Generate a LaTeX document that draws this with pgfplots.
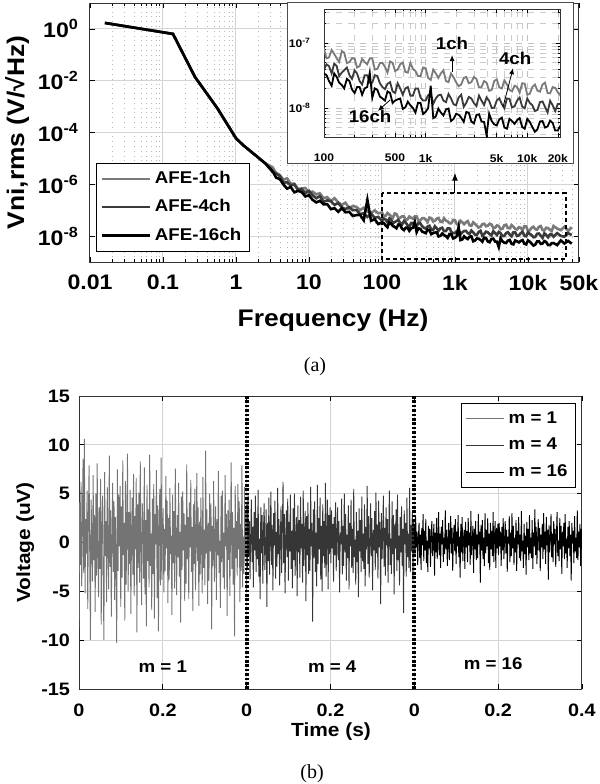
\documentclass[border=0pt]{standalone}
\usepackage{fontspec}
\setmainfont{Liberation Sans}[FakeStretch=1.1]
\newfontfamily\capfont{Liberation Serif}
\usepackage{pgfplots}
\pgfplotsset{compat=1.18}
\usepackage{pgfplotstable}
\usetikzlibrary{arrows.meta}

\definecolor{ch1}{HTML}{7A7A7A}
\definecolor{ch4}{HTML}{3A3A3A}
\definecolor{ch16}{HTML}{000000}
\definecolor{mone}{HTML}{747474}
\definecolor{mfour}{HTML}{363636}
\definecolor{gridc}{HTML}{D4D4D4}

% input-referred noise spectra (f in Hz, V/sqrt(Hz))
\pgfplotstableread{
f a b c
0.016 1.7 1.7 1.7
0.137 0.64 0.64 0.64
0.274 0.014 0.014 0.014
0.55 9e-4 9e-4 9e-4
1.0 6e-5 6e-5 6e-5
1.26 3.2e-5 3.2e-5 3.2e-5
1.58 1.9e-5 1.9e-5 1.9e-5
2.0 1.1e-5 1.1e-5 1.1e-5
2.51 6.5e-6 6.5e-6 6.5e-6
3.16 4.6e-6 3.0e-6 3.3e-6
3.55 2.7e-6 2.6e-6 1.8e-6
3.98 2.3e-6 2.1e-6 1.6e-6
4.47 1.5e-6 1.15e-6 9.8e-7
5.01 1.7e-6 1.2e-6 6.8e-7
5.62 1.07e-6 9.1e-7 7.9e-7
6.31 1.05e-6 9.8e-7 4.9e-7
7.08 6.6e-7 6.0e-7 5.6e-7
7.94 6.9e-7 6.6e-7 5.0e-7
8.91 7.2e-7 4.6e-7 3.4e-7
10 4.6e-7 5.6e-7 3.8e-7
11.2 5.2e-7 3.8e-7 2.5e-7
12.6 4.1e-7 2.9e-7 2.0e-7
14.1 4.5e-7 3.5e-7 2.3e-7
15.8 2.9e-7 2.1e-7 1.7e-7
17.8 3.2e-7 2.4e-7 1.7e-7
20.0 2.3e-7 2.2e-7 1.1e-7
22.4 2.9e-7 1.6e-7 1.2e-7
25.1 2.0e-7 1.9e-7 8.7e-8
28.2 1.6e-7 1.3e-7 1.2e-7
31.6 1.95e-7 1.1e-7 8.3e-8
35.5 1.2e-7 1.3e-7 8.7e-8
39.8 1.45e-7 1.0e-7 6.0e-8
44.7 1.35e-7 1.02e-7 6.5e-8
50.1 1.0e-7 7.1e-8 6.6e-8
56.2 1.26e-7 7.6e-8 4.1e-8
63.1 8.9e-8 5.5e-8 2.5e-7
70.8 7.8e-8 7.4e-8 3.9e-8
79.4 9.8e-8 5.1e-8 4.5e-8
89.1 7.6e-8 5.5e-8 2.9e-8
100 8.1e-8 3.9e-8 3.4e-8
105.9 5.8e-8 4.7e-8 3.2e-8
112 6.0e-8 4.4e-8 2.6e-8
118.9 7.8e-8 3.4e-8 2.2e-8
126 6.8e-8 4.8e-8 3.4e-8
133.4 5.8e-8 4.4e-8 3.0e-8
141 5.1e-8 3.1e-8 2.45e-8
149.6 7.5e-8 3.5e-8 2.26e-8
158 7.1e-8 3.8e-8 2.0e-8
167.9 4.9e-8 4.2e-8 2.8e-8
178 5.1e-8 3.2e-8 2.6e-8
188.4 5.8e-8 2.8e-8 1.93e-8
200 5.8e-8 3.8e-8 1.7e-8
211.3 4.2e-8 3.4e-8 2.1e-8
224 4.4e-8 2.6e-8 2.1e-8
237.1 5.7e-8 2.3e-8 1.6e-8
251 5.1e-8 3.2e-8 2.0e-8
266.1 4.7e-8 3.2e-8 2.1e-8
282 5.8e-8 2.45e-8 3.5e-8
298.5 5.8e-8 2.45e-8 1.43e-8
316 3.9e-8 3.2e-8 2.0e-8
335 4.0e-8 3.1e-8 1.9e-8
355 4.9e-8 2.4e-8 1.5e-8
375.8 4.95e-8 2.1e-8 1.4e-8
398 4.3e-8 1.95e-8 1.3e-8
421.7 3.5e-8 2.35e-8 1.8e-8
447 5.2e-8 2.5e-8 1.7e-8
473.2 4.95e-8 1.8e-8 1.19e-8
501 3.7e-8 1.7e-8 1.3e-8
530.9 3.9e-8 2.4e-8 1.36e-8
562 4.7e-8 2.0e-8 1.4e-8
595.7 5.0e-8 1.6e-8 9.7e-9
631 3.6e-8 2.0e-8 1.02e-8
668.3 3.5e-8 2.1e-8 1.25e-8
708 4.9e-8 1.55e-8 1.1e-8
749.9 4.0e-8 1.55e-8 1.0e-8
794 3.7e-8 2.0e-8 8.5e-9
841.4 3.1e-8 2.0e-8 1.2e-8
891 3.1e-8 1.45e-8 1.2e-8
944.1 4.2e-8 1.3e-8 8.1e-9
1000 4.1e-8 1.3e-8 8.7e-9
1059 2.9e-8 1.57e-8 1.0e-8
1122 2.7e-8 1.7e-8 2.2e-8
1189 3.9e-8 1.16e-8 7.0e-9
1259 3.4e-8 1.4e-8 7.4e-9
1334 2.9e-8 1.57e-8 9.8e-9
1413 3.4e-8 1.6e-8 8.5e-9
1496 3.8e-8 1.3e-8 7.7e-9
1585 2.6e-8 1.23e-8 9.5e-9
1679 2.5e-8 1.64e-8 9.8e-9
1778 3.4e-8 1.4e-8 6.3e-9
1884 2.95e-8 1.14e-8 6.8e-9
1995 2.5e-8 1.1e-8 8.1e-9
2113 2.16e-8 1.45e-8 7.9e-9
2239 2.3e-8 1.6e-8 7.1e-9
2371 2.9e-8 1.04e-8 6.1e-9
2512 3.0e-8 1.2e-8 8.7e-9
2661 2.4e-8 1.48e-8 8.4e-9
2818 2.5e-8 1.4e-8 6.2e-9
2985 3.0e-8 1.19e-8 5.8e-9
3162 2.8e-8 1.07e-8 7.8e-9
3350 2.07e-8 1.55e-8 8.0e-9
3548 2.1e-8 1.3e-8 6.2e-9
3758 2.6e-8 1.11e-8 6.1e-9
3981 2.45e-8 1.45e-8 3.8e-9
4217 1.84e-8 1.29e-8 8.2e-9
4467 1.9e-8 1.0e-8 6.3e-9
4732 2.6e-8 1.01e-8 5.6e-9
5012 2.75e-8 1.3e-8 5.4e-9
5309 2.07e-8 1.41e-8 6.7e-9
5623 2.0e-8 1.15e-8 7.1e-9
5957 2.66e-8 9.9e-9 5.0e-9
6310 2.3e-8 1.4e-8 4.8e-9
6683 1.9e-8 1.38e-8 6.8e-9
7079 1.8e-8 1.02e-8 6.3e-9
7499 2.2e-8 1.06e-8 5.7e-9
7943 2.1e-8 1.3e-8 6.5e-9
8414 1.72e-8 1.45e-8 7.0e-9
8913 2.4e-8 1.05e-8 5.1e-9
9441 2.37e-8 9.9e-9 4.8e-9
10000 1.6e-8 1.4e-8 6.8e-9
10593 1.66e-8 1.2e-8 6.1e-9
11220 2.1e-8 1.1e-8 5.1e-9
11885 2.3e-8 9.0e-9 4.3e-9
12589 1.85e-8 9.3e-9 4.7e-9
13335 1.78e-8 1.23e-8 6.2e-9
14125 2.3e-8 1.26e-8 6.3e-9
14962 2.45e-8 1.04e-8 5.0e-9
15849 1.7e-8 8.5e-9 5.2e-9
16788 1.68e-8 1.29e-8 6.4e-9
17783 2.1e-8 1.1e-8 5.9e-9
18836 2.04e-8 9.0e-9 4.5e-9
19953 1.75e-8 1.15e-8 4.5e-9
21135 1.57e-8 1.16e-8 5.3e-9
22387 2.45e-8 9.5e-9 5.4e-9
25119 1.95e-8 1.3e-8 4.5e-9
28184 1.7e-8 1.02e-8 6.8e-9
31623 2.3e-8 9.5e-9 5.2e-9
35481 1.6e-8 1.3e-8 6.5e-9
39811 2.2e-8 1.1e-8 5.1e-9
}\spec

% time-domain noise, uV, one sample per row (250 samples over 0.4 s)
\pgfplotstableread[row sep=\\]{v\\
-8.8\\4.1\\-2.3\\6.2\\-4.5\\1.2\\8.6\\-3.1\\10.6\\-5.2\\2.4\\-1.1\\5.3\\-6.8\\3.0\\7.9\\-2.0\\-10.0\\4.4\\0.6\\-4.0\\6.9\\-1.8\\2.8\\-7.1\\
5.0\\-3.4\\8.1\\-0.9\\-5.6\\3.6\\-2.7\\6.5\\-8.4\\1.9\\4.8\\-3.9\\-10.0\\7.2\\-1.4\\2.2\\-6.1\\5.7\\0.3\\-4.8\\8.9\\-2.5\\3.3\\-7.6\\1.0\\
6.1\\-3.0\\4.2\\-5.9\\2.6\\-1.6\\-10.3\\7.5\\-2.9\\4.9\\-0.4\\5.8\\-6.6\\3.7\\-3.6\\8.4\\-1.3\\2.0\\-8.0\\6.3\\-4.3\\1.5\\9.1\\-5.0\\3.1\\
-2.2\\5.4\\-7.3\\0.8\\4.6\\-3.3\\7.0\\-5.5\\2.7\\-0.7\\6.6\\-9.2\\3.9\\-2.6\\5.1\\-4.1\\8.3\\-1.0\\-6.4\\4.0\\1.7\\-3.7\\7.7\\-5.3\\2.3\\
-8.6\\5.9\\-1.9\\3.4\\-4.6\\9.0\\-2.4\\0.9\\-6.9\\4.5\\-3.2\\6.0\\-7.8\\2.9\\-0.2\\7.4\\-5.7\\3.8\\-9.1\\1.3\\5.5\\-4.4\\8.7\\-3.8\\2.1\\
3.5\\-5.1\\1.4\\-2.9\\6.8\\-0.6\\4.3\\-6.2\\2.5\\-3.8\\5.6\\-1.2\\0.7\\-7.4\\4.9\\-2.1\\3.2\\-4.7\\7.6\\-0.3\\
-5.4\\2.8\\-1.5\\6.1\\-3.5\\1.1\\-8.2\\4.7\\-2.8\\5.2\\-0.8\\3.0\\-6.0\\1.8\\-4.2\\8.0\\-1.7\\2.6\\-5.8\\4.1\\
-0.5\\6.4\\-3.0\\1.6\\-7.0\\3.9\\-2.2\\5.5\\-4.9\\0.4\\7.1\\-1.9\\3.6\\-6.5\\2.1\\-3.3\\4.6\\-0.1\\-5.2\\6.7\\
-2.6\\1.3\\-4.4\\9.4\\-1.1\\3.4\\-6.3\\2.0\\-3.9\\5.0\\-0.9\\4.0\\-8.9\\1.7\\-2.4\\6.3\\-4.0\\0.5\\3.7\\-5.9\\
2.4\\-1.3\\7.3\\-3.1\\0.2\\-6.7\\4.8\\-2.0\\5.3\\-3.6\\1.0\\-4.8\\6.9\\-0.4\\2.9\\-7.5\\3.3\\-1.8\\4.4\\-5.5\\
0.9\\8.2\\-2.7\\3.1\\-4.3\\1.5\\-9.6\\5.8\\-1.6\\2.2\\-3.4\\6.0\\-0.7\\4.2\\-6.1\\1.9\\-2.9\\7.9\\-4.6\\0.6\\
-3.2\\5.7\\-1.4\\3.0\\-5.0\\
}\segA
\pgfplotstableread[row sep=\\]{v\\
3.9\\-2.6\\5.1\\-1.4\\2.2\\-3.8\\0.9\\4.4\\-2.0\\1.6\\-4.6\\3.1\\-0.8\\4.8\\-3.0\\2.5\\-1.7\\5.4\\-3.5\\0.4\\-5.8\\3.6\\-1.1\\2.8\\-4.2\\
1.3\\4.0\\-2.8\\-0.5\\3.4\\-6.6\\2.0\\-1.9\\4.6\\-3.3\\0.7\\5.2\\-2.3\\1.8\\-4.9\\3.0\\-0.3\\4.3\\-3.7\\1.1\\-2.5\\5.6\\-1.2\\2.4\\-4.4\\
0.2\\3.7\\-3.1\\1.5\\6.2\\-2.1\\2.9\\-5.2\\0.6\\3.3\\-1.5\\4.5\\-3.9\\2.1\\-0.9\\4.9\\-2.7\\1.2\\-4.7\\3.5\\-1.8\\5.0\\-3.4\\0.8\\2.6\\
-5.5\\3.8\\-1.0\\2.3\\-3.6\\4.7\\-0.6\\1.9\\-4.1\\5.3\\-2.4\\0.5\\3.2\\-6.0\\2.7\\-1.3\\4.1\\-3.2\\1.4\\-2.9\\5.7\\-0.4\\2.0\\-8.1\\3.4\\
-1.6\\4.2\\-3.0\\1.0\\-4.5\\5.9\\-2.2\\2.5\\-0.7\\4.6\\-3.8\\1.7\\-5.0\\3.9\\-1.4\\2.2\\-2.6\\6.1\\-3.5\\0.9\\4.4\\-4.8\\2.8\\-1.2\\3.6\\
-2.1\\3.3\\-0.6\\1.9\\-4.0\\2.6\\-1.3\\4.1\\-2.9\\0.5\\3.6\\-1.8\\2.2\\-5.1\\1.0\\-0.2\\4.5\\-3.3\\1.7\\-2.4\\
5.0\\-1.0\\2.9\\-3.9\\0.8\\-1.6\\3.8\\-4.8\\2.0\\-0.4\\4.4\\-2.6\\1.4\\-3.1\\5.5\\-1.5\\0.3\\-4.3\\3.1\\-2.0\\
1.2\\-5.6\\3.5\\-0.9\\2.3\\-3.0\\4.7\\-1.9\\0.9\\-2.7\\3.9\\-4.5\\1.6\\-0.7\\5.8\\-2.2\\2.7\\-3.6\\0.1\\4.0\\
-1.4\\2.5\\-4.9\\1.3\\-0.8\\3.2\\-2.8\\5.1\\-1.1\\1.8\\-3.7\\4.3\\-0.5\\2.1\\-6.3\\3.0\\-1.7\\0.6\\4.8\\-2.5\\
1.5\\-3.4\\3.6\\-0.3\\2.4\\-4.1\\1.1\\5.3\\-2.3\\0.4\\-3.2\\4.2\\-1.2\\2.8\\-5.3\\1.9\\-0.6\\3.4\\-2.9\\4.9\\
-1.8\\0.7\\-4.4\\2.6\\-1.0\\3.7\\-2.4\\1.4\\-7.2\\3.3\\-0.2\\2.0\\-3.5\\4.6\\-1.5\\0.9\\-2.6\\5.6\\-3.0\\1.8\\
-0.9\\3.1\\-4.0\\2.3\\-1.1\\
}\segB
\pgfplotstableread[row sep=\\]{v\\
1.8\\-1.2\\2.6\\-0.5\\1.1\\-2.3\\0.4\\2.0\\-1.6\\0.8\\-2.8\\1.5\\-0.3\\2.9\\-1.9\\1.2\\-0.8\\2.4\\-2.1\\0.2\\-3.0\\1.7\\-0.6\\1.4\\-2.5\\
0.6\\2.2\\-1.4\\-0.1\\1.9\\-3.4\\1.0\\-1.0\\2.5\\-1.7\\0.3\\3.1\\-1.3\\0.9\\-2.6\\1.6\\-0.2\\2.3\\-2.0\\0.5\\-1.2\\3.3\\-0.7\\1.3\\-2.4\\
0.1\\2.0\\-1.8\\0.7\\2.7\\-1.1\\1.5\\-2.9\\0.3\\1.8\\-0.9\\2.4\\-2.2\\1.1\\-0.4\\2.8\\-1.5\\0.6\\-3.6\\1.9\\-1.0\\2.6\\-1.9\\0.4\\1.3\\
-2.7\\2.1\\-0.5\\1.2\\-2.0\\2.5\\-0.3\\1.0\\-2.3\\3.2\\-1.3\\0.2\\1.7\\-3.1\\1.4\\-0.7\\2.2\\-1.8\\0.8\\-1.6\\2.9\\-0.2\\1.1\\-4.1\\1.8\\
-0.8\\2.3\\-1.7\\0.5\\-2.4\\3.0\\-1.1\\1.3\\-0.4\\2.5\\-2.1\\0.9\\-2.8\\2.0\\-0.7\\1.2\\-1.4\\3.1\\-2.0\\0.4\\2.2\\-2.6\\1.5\\-0.6\\1.9\\
-1.3\\2.0\\-0.4\\1.1\\-2.4\\1.6\\-0.8\\2.5\\-1.7\\0.3\\2.2\\-1.1\\1.3\\-3.0\\0.6\\-0.1\\2.7\\-2.0\\1.0\\-1.4\\
3.0\\-0.6\\1.7\\-2.3\\0.5\\-1.0\\2.3\\-2.9\\1.2\\-0.2\\2.6\\-1.6\\0.8\\-1.9\\3.2\\-0.9\\0.2\\-2.6\\1.9\\-1.2\\
0.7\\-3.3\\2.1\\-0.5\\1.4\\-1.8\\2.8\\-1.1\\0.5\\-1.6\\2.3\\-2.7\\1.0\\-0.4\\3.4\\-1.3\\1.6\\-2.2\\0.1\\2.4\\
-0.8\\1.5\\-2.9\\0.8\\-0.5\\1.9\\-1.7\\3.0\\-0.7\\1.1\\-2.2\\2.6\\-0.3\\1.3\\-3.8\\1.8\\-1.0\\0.4\\2.9\\-1.5\\
0.9\\-2.0\\2.2\\-0.2\\1.4\\-2.5\\0.7\\3.1\\-1.4\\0.2\\-1.9\\2.5\\-0.7\\1.7\\-3.2\\1.1\\-0.4\\2.0\\-1.7\\2.9\\
-1.1\\0.4\\-2.6\\1.6\\-0.6\\2.2\\-1.4\\0.8\\-3.9\\2.0\\-0.1\\1.2\\-2.1\\2.7\\-0.9\\0.5\\-1.6\\3.3\\-1.8\\1.1\\
-0.5\\1.9\\-2.4\\1.4\\-0.7\\
}\segC

\begin{document}
\begin{tikzpicture}
\useasboundingbox (0,0) rectangle (300pt,392pt);

% ---------------- (a) noise spectrum ----------------
\begin{axis}[
  at={(45pt,261pt)}, anchor=south west,
  scale only axis, width=244.5pt, height=129.5pt,
  xmode=log, ymode=log,
  xmin=0.01, xmax=50000, ymin=1e-9, ymax=10,
  xtick={0.01,0.1,1,10,100,1000,10000,50000},
  xticklabels={0.01,0.1,1,10,100,1k,10k,50k},
  minor xtick={0.02,0.03,0.04,0.05,0.06,0.07,0.08,0.09,
    0.2,0.3,0.4,0.5,0.6,0.7,0.8,0.9,2,3,4,5,6,7,8,9,
    20,30,40,50,60,70,80,90,200,300,400,500,600,700,800,900,
    2000,3000,4000,5000,6000,7000,8000,9000,20000,30000,40000},
  ytick={1e-8,1e-6,1e-4,1e-2,1},
  yticklabels={10\textsuperscript{-8},10\textsuperscript{-6},10\textsuperscript{-4},10\textsuperscript{-2},10\textsuperscript{0}},
  yminorticks=false,
  xmajorgrids, ymajorgrids, xminorgrids,
  major grid style={gridc, line width=0.5pt},
  minor grid style={gray!55, dotted, line width=0.4pt},
  tick align=inside, major tick length=2.5pt, minor tick length=1.5pt,
  tick style={black, line width=0.4pt},
  axis line style={black!80, line width=0.5pt},
  ticklabel style={font=\bfseries\fontsize{10.5}{10.5}\selectfont},
  xticklabel style={yshift=-3pt},
  yticklabel style={xshift=-2pt},
  xlabel={Frequency (Hz)},
  ylabel={Vni,rms (V/√Hz)},
  label style={font=\bfseries\fontsize{12}{12}\selectfont},
  xlabel style={at={(axis description cs:0.497,-0.224)}, anchor=center},
  ylabel style={at={(axis description cs:-0.149,0.5)}, anchor=center},
  legend style={at={(0.012,0.04)}, anchor=south west, draw=black, line width=0.5pt,
    font=\bfseries\fontsize{8.5}{8.5}\selectfont, fill=white,
    row sep=2.5pt, inner sep=2pt},
  legend cell align=left,
  legend image code/.code={\draw[#1] (0pt,0pt) -- (24pt,0pt);},
]
\addplot[ch1, line width=1.3pt] table[x=f, y=a] {\spec};
\addlegendentry{AFE-1ch}
\addplot[ch4, line width=1.3pt] table[x=f, y=b] {\spec};
\addlegendentry{AFE-4ch}
\addplot[ch16, line width=1.3pt] table[x=f, y=c] {\spec};
\addlegendentry{AFE-16ch}
\draw[black, line width=0.8pt, dash pattern=on 2pt off 1.5pt]
  (axis cs:100,4.5e-7) rectangle (axis cs:33000,1.3e-9);
\draw[-{Latex[length=4pt,width=3pt]}, line width=0.5pt]
  (axis cs:1000,4.5e-7) -- (axis cs:1000,2.8e-6);
\end{axis}

% white frame behind the zoomed view
\filldraw[fill=white, draw=black!70, line width=0.5pt] (143.5pt,310pt) rectangle (286.5pt,390.5pt);

% ---------------- inset: 100 Hz - 20 kHz ----------------
\begin{axis}[
  at={(162pt,323.5pt)}, anchor=south west,
  scale only axis, width=118pt, height=64pt,
  xmode=log, ymode=log,
  xmin=100, xmax=21000, ymin=3.58e-9, ymax=3.33e-7,
  xtick={100,500,1000,5000,10000,20000},
  xticklabels={100,500,1k,5k,10k,20k},
  minor xtick={200,300,400,600,700,800,900,2000,3000,4000,6000,7000,8000,9000},
  ytick={1e-8,1e-7},
  yticklabels={10\textsuperscript{-8},10\textsuperscript{-7}},
  minor ytick={4e-9,5e-9,6e-9,7e-9,8e-9,9e-9,2e-8,3e-8,4e-8,5e-8,6e-8,7e-8,8e-8,9e-8,2e-7,3e-7},
  xmajorgrids, ymajorgrids, xminorgrids, yminorgrids,
  major grid style={gray!50, dashed, line width=0.3pt},
  minor grid style={gray!40, dashed, line width=0.3pt},
  tick align=inside, major tick length=2pt, minor tick length=1pt,
  tick style={black, line width=0.3pt},
  axis line style={black!80, line width=0.5pt},
  axis background/.style={fill=white},
  ticklabel style={font=\bfseries\fontsize{5.5}{5.5}\selectfont},
  xticklabel style={yshift=-5pt},
  yticklabel style={xshift=-3pt},
]
\addplot[ch1, line width=0.9pt] table[x=f, y=a] {\spec};
\addplot[ch4, line width=0.9pt] table[x=f, y=b] {\spec};
\addplot[ch16, line width=0.9pt] table[x=f, y=c] {\spec};
\node[font=\bfseries\fontsize{8.5}{8.5}\selectfont] at (axis cs:1820,1e-7) {1ch};
\draw[-{Latex[length=3pt,width=2.5pt]}, line width=0.4pt] (axis cs:1820,3.6e-8) -- (axis cs:1820,6.5e-8);
\node[font=\bfseries\fontsize{8.5}{8.5}\selectfont] at (axis cs:7600,5.7e-8) {4ch};
\draw[-{Latex[length=3pt,width=2.5pt]}, line width=0.4pt] (axis cs:5780,1.04e-8) -- (axis cs:7250,4.1e-8);
\node[font=\bfseries\fontsize{8.5}{8.5}\selectfont] at (axis cs:284,7.3e-9) {16ch};
\draw[-{Latex[length=3pt,width=2.5pt]}, line width=0.4pt] (axis cs:447,1.33e-8) -- (axis cs:339,9e-9);
\end{axis}

\node[font=\capfont\fontsize{10}{10}\selectfont] at (157.5pt,208.5pt) {(a)};

% ---------------- (b) time-domain noise ----------------
\begin{axis}[
  at={(39.5pt,47.5pt)}, anchor=south west,
  scale only axis, width=251.5pt, height=146.5pt,
  xmin=0, xmax=1.2, ymin=-15, ymax=15,
  xtick={0,0.2,0.4,0.6,0.8,1.0,1.2},
  xticklabels={0,0.2,0,0.2,0,0.2,0.4},
  ytick={-15,-10,-5,0,5,10,15},
  yticklabels={-15,-10,-5,0,5,10,15},
  grid=major, major grid style={gridc, line width=0.5pt},
  tick align=inside, major tick length=2.5pt,
  tick style={black, line width=0.4pt},
  axis line style={black!80, line width=0.5pt},
  ticklabel style={font=\bfseries\fontsize{9}{9}\selectfont},
  xticklabel style={yshift=-4pt},
  yticklabel style={xshift=-1pt},
  xlabel={Time (s)}, ylabel={Voltage (uV)},
  label style={font=\bfseries\fontsize{9.5}{9.5}\selectfont},
  xlabel style={at={(axis description cs:0.501,-0.147)}, anchor=center},
  ylabel style={at={(axis description cs:-0.107,0.5)}, anchor=center},
  legend style={at={(0.988,0.976)}, anchor=north east, draw=black, line width=0.5pt,
    font=\bfseries\fontsize{8.5}{8.5}\selectfont, fill=white,
    row sep=2pt, inner sep=2pt},
  legend cell align=left,
  legend image code/.code={\draw[#1, line width=0.6pt] (0pt,0pt) -- (19pt,0pt);},
]
\addplot[mone, line width=0.45pt] table[x expr=\coordindex*0.0016064, y=v] {\segA};
\addlegendentry{m = 1}
\addplot[mfour, line width=0.45pt] table[x expr=0.4+\coordindex*0.0016064, y=v] {\segB};
\addlegendentry{m = 4}
\addplot[black, line width=0.45pt] table[x expr=0.8+\coordindex*0.0016064, y=v] {\segC};
\addlegendentry{m = 16}
\draw[black, line width=2pt, dash pattern=on 1.3pt off 0.9pt] (axis cs:0.4,-15) -- (axis cs:0.4,15);
\draw[black, line width=2pt, dash pattern=on 1.3pt off 0.9pt] (axis cs:0.8,-15) -- (axis cs:0.8,15);
\node[font=\bfseries\fontsize{8.5}{8.5}\selectfont] at (axis cs:0.2,-12.7) {m = 1};
\node[font=\bfseries\fontsize{8.5}{8.5}\selectfont] at (axis cs:0.604,-12.7) {m = 4};
\node[font=\bfseries\fontsize{8.5}{8.5}\selectfont] at (axis cs:0.988,-12.4) {m = 16};
\end{axis}

\node[font=\capfont\fontsize{10}{10}\selectfont] at (156pt,5pt) {(b)};
\end{tikzpicture}
\end{document}
